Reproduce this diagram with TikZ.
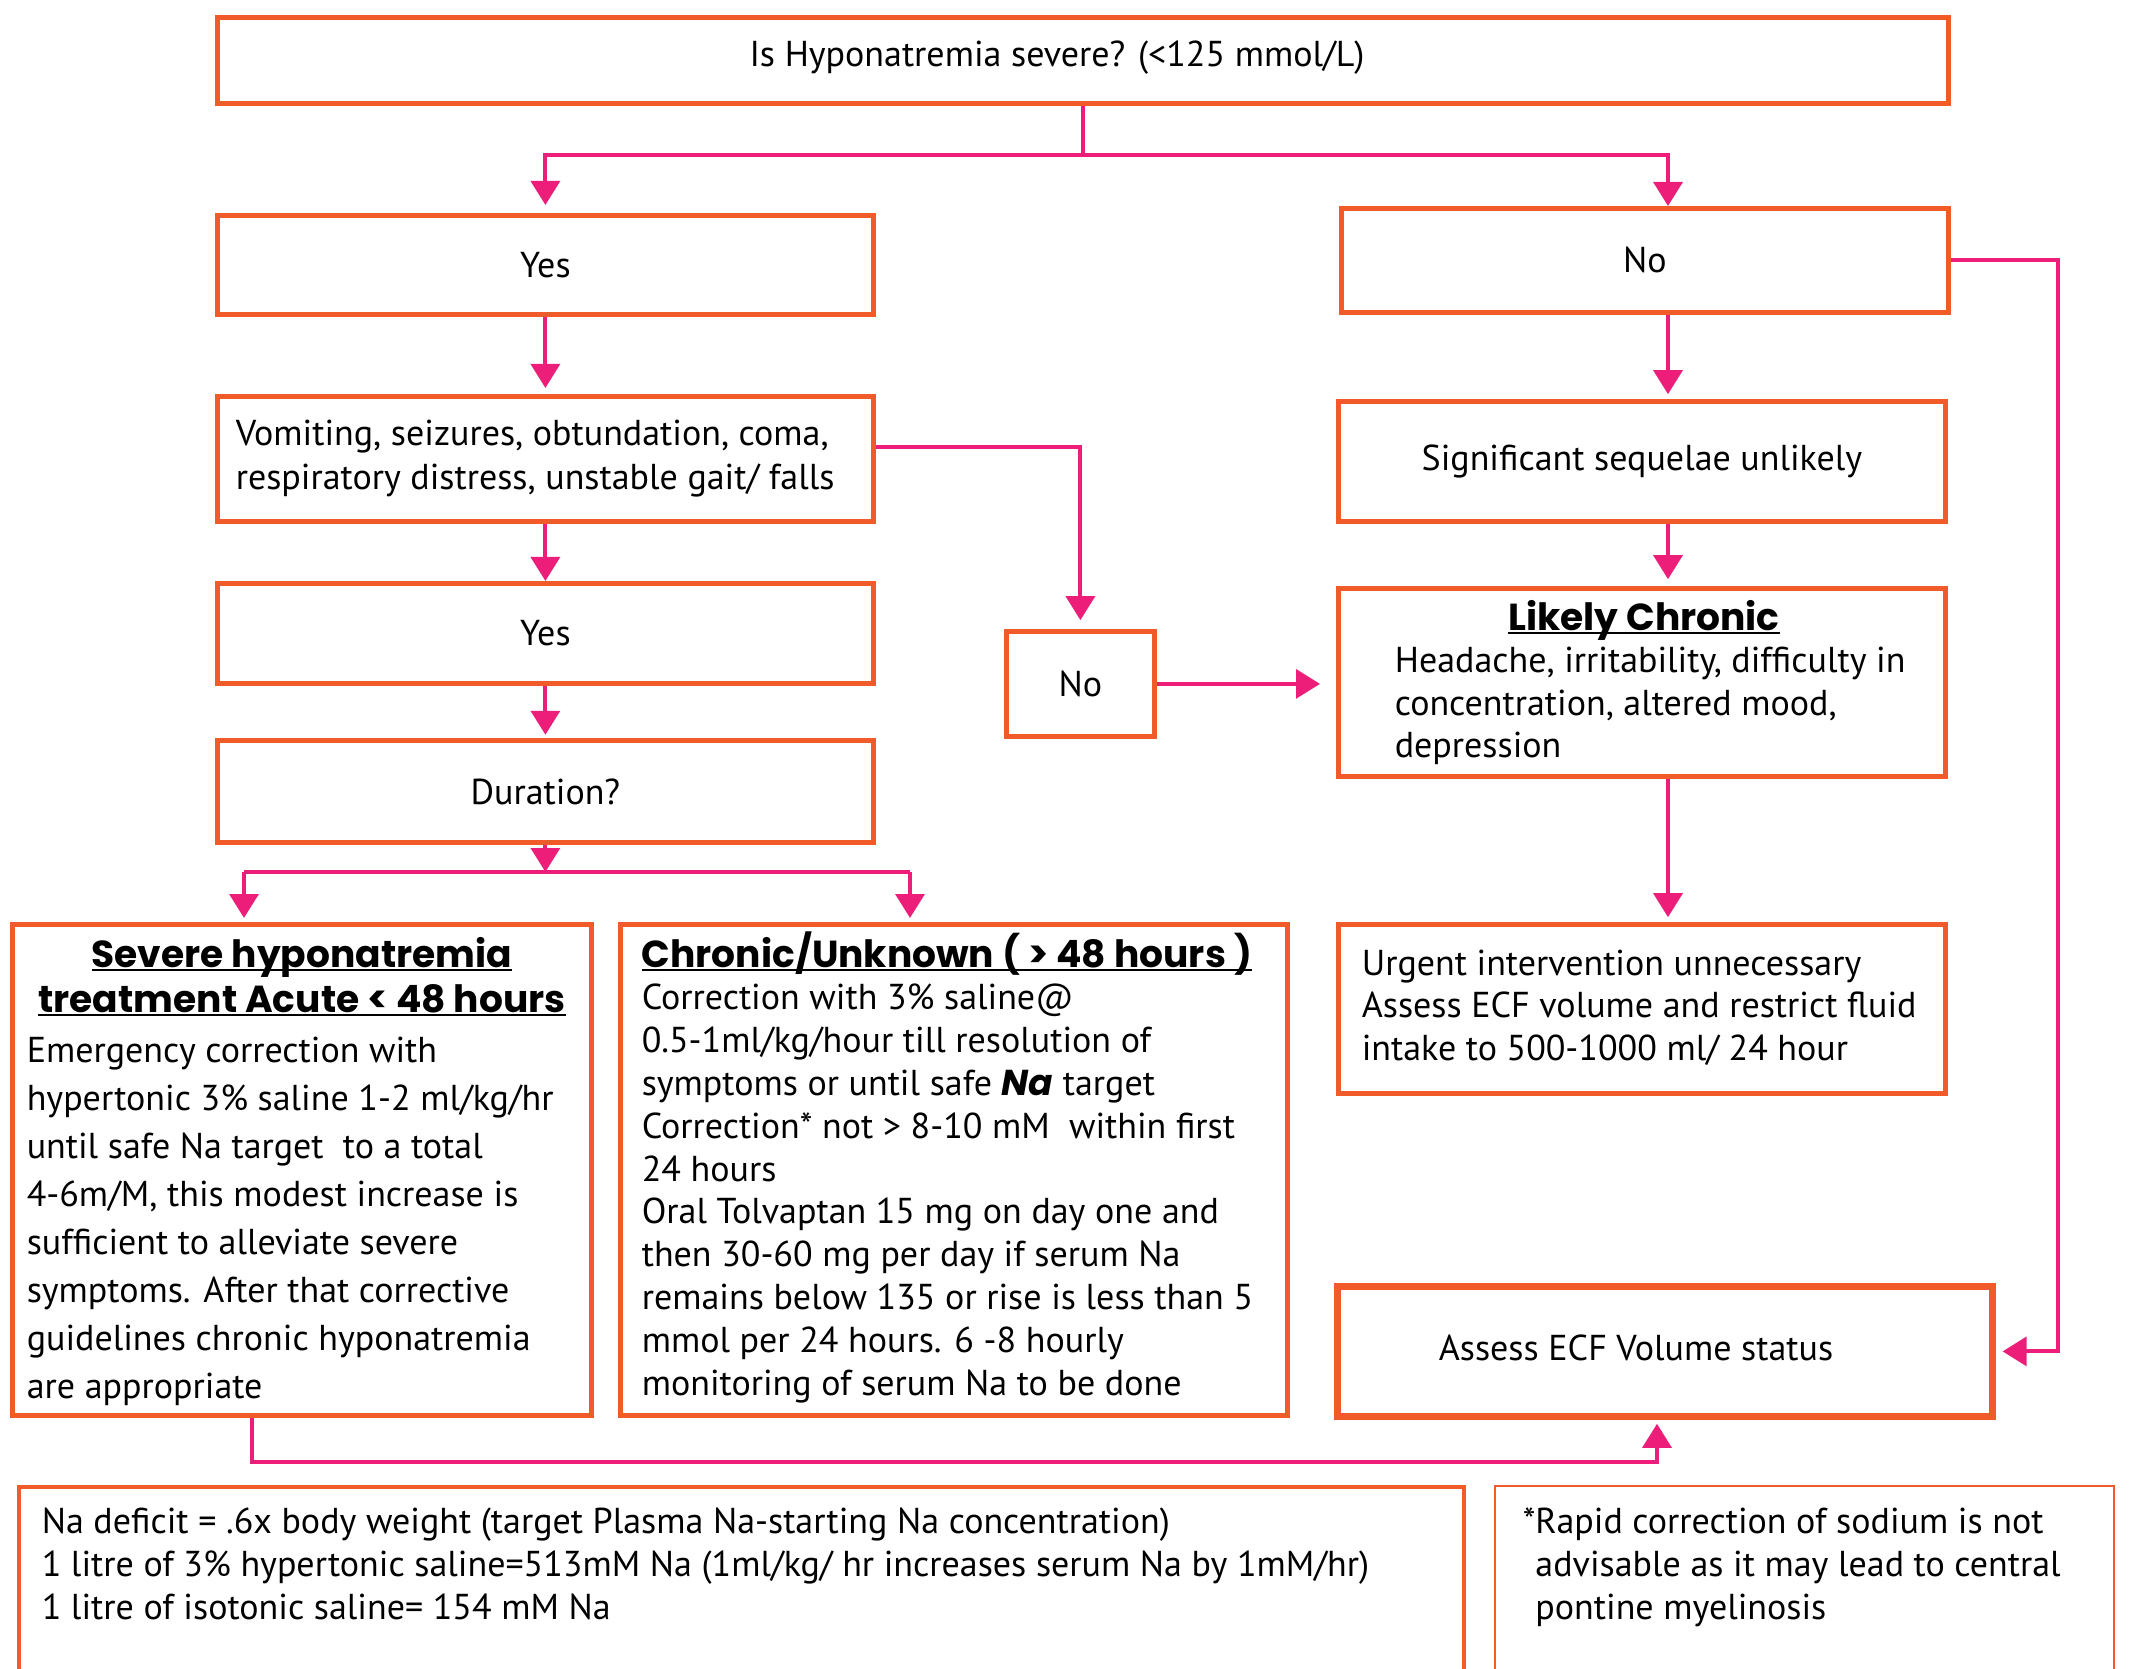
\documentclass[tikz,border=0pt]{standalone}
\usepackage{fontspec}
\setmainfont{PT Sans}
\newfontfamily\headfont{Poppins}
\usetikzlibrary{arrows.meta}
\definecolor{boxor}{RGB}{241,90,41}
\definecolor{arrpk}{RGB}{237,30,121}
\newsavebox\ulbox
\newcommand\myul[1]{\sbox\ulbox{#1}\rlap{\rule[-1.1pt]{\wd\ulbox}{0.55pt}}\usebox\ulbox}
\tikzset{
  bx/.style={draw=boxor, line width=1.2pt, inner sep=0pt, anchor=north west, rectangle,
             font=\fontsize{9pt}{10.7pt}\selectfont},
  ar/.style={draw=arrpk, line width=1pt, -{Triangle[length=6pt,width=7.2pt]}},
  ln/.style={draw=arrpk, line width=1pt},
  tx/.style={inner sep=0pt, anchor=base west, align=left},
  ctx/.style={inner sep=0pt, font=\fontsize{9pt}{10.7pt}\selectfont},
  hd/.style={inner sep=0pt, font=\headfont\bfseries\fontsize{9.4pt}{11.25pt}\selectfont},
}
\begin{document}
\begin{tikzpicture}[x=0.25pt,y=-0.25pt]
\useasboundingbox (0,0) rectangle (2134,1669);
\fill[white] (0,0) rectangle (2134,1669);
% boxes
\node[bx, minimum width=432.75pt, minimum height=21.5pt] (top) at (215,15) {};
\node[bx, minimum width=164pt, minimum height=24.75pt] (yes1) at (215,213) {Yes};
\node[bx, minimum width=151.75pt, minimum height=26pt] (noR) at (1339,206) {No};
\node[bx, minimum width=164pt, minimum height=31.25pt] (vomit) at (215,394) {};
\node[bx, minimum width=164pt, minimum height=25pt] (yes2) at (215,581) {Yes};
\node[bx, minimum width=164pt, minimum height=25.5pt] (dur) at (215,738) {Duration?};
\node[bx, minimum width=144.75pt, minimum height=122.75pt] (severe) at (10,922) {};
\node[bx, minimum width=166.75pt, minimum height=122.75pt] (chronic) at (618,922) {};
\node[bx, minimum width=151.75pt, minimum height=30pt] (sig) at (1336,399) {Significant sequelae unlikely};
\node[bx, minimum width=151.75pt, minimum height=47pt] (likely) at (1336,586) {};
\node[bx, minimum width=37pt, minimum height=26.25pt] (noM) at (1004,629) {No};
\node[bx, minimum width=151.75pt, minimum height=42.25pt] (urgent) at (1336,922) {};
\node[bx, line width=1.7pt, minimum width=163.75pt, minimum height=32.5pt] (assess) at (1334,1283) {};
\begin{scope}
\clip (0,0) rectangle (2134,1669);
\node[bx, line width=1pt, minimum width=361.25pt, minimum height=62.5pt] (nadef) at (17,1485) {};
\node[bx, line width=0.6pt, minimum width=154.75pt, minimum height=62.5pt] (rapid) at (1494,1485) {};
\end{scope}
% texts (multi-line ones anchored at the baseline of their last line)
\node[ctx] (ttop) at (1057,58) {Is Hyponatremia severe? (<125 mmol/L)};
\node[ctx] (tassess) at (1636,1348) {Assess ECF Volume status};
\node[tx, font=\fontsize{9pt}{10.75pt}\selectfont] (tvomit) at (235,489)
  {Vomiting, seizures, obtundation, coma,\\respiratory distress, unstable gait/ falls};
\node[hd, anchor=base, align=center] (hsevere) at (302,1012)
  {\myul{Severe hyponatremia}\\\myul{treatment Acute < 48 hours}};
\node[tx, font=\fontsize{9pt}{12pt}\selectfont] (tsevere) at (26,1398)
  {Emergency correction with\\
   hypertonic 3\% saline 1-2 ml/kg/hr\\
   until safe Na target\ \ to a total\\
   4-6m/M, this modest increase is\\
   sufficient to alleviate severe\\
   symptoms. After that corrective\\
   guidelines chronic hyponatremia\\
   are appropriate};
\node[hd, anchor=base west] (hchronic) at (641,967) {\myul{Chronic/Unknown ( > 48 hours )}};
\node[tx, font=\fontsize{9pt}{10.7pt}\selectfont] (tchronic) at (641,1395)
  {Correction with 3\% saline@\\
   0.5-1ml/kg/hour till resolution of\\
   symptoms or until safe {\headfont\bfseries\itshape Na} target\\
   Correction* not > 8-10 mM\ \ within first\\
   24 hours\\
   Oral Tolvaptan 15 mg on day one and\\
   then 30-60 mg per day if serum Na\\
   remains below 135 or rise is less than 5\\
   mmol per 24 hours. 6 -8 hourly\\
   monitoring of serum Na to be done};
\node[hd, anchor=base] (hlikely) at (1644,630) {\myul{Likely Chronic}};
\node[tx, font=\fontsize{9pt}{10.7pt}\selectfont] (tlikely) at (1394,758)
  {Headache, irritability, difficulty in\\
   concentration, altered mood,\\
   depression};
\node[tx, font=\fontsize{9pt}{10.6pt}\selectfont] (turgent) at (1361,1060)
  {Urgent intervention unnecessary\\
   Assess ECF volume and restrict fluid\\
   intake to 500-1000 ml/ 24 hour};
\node[tx, font=\fontsize{9pt}{10.75pt}\selectfont] (tnadef) at (41,1619)
  {Na deficit = .6x body weight (target Plasma Na-starting Na concentration)\\
   1 litre of 3\% hypertonic saline=513mM Na (1ml/kg/ hr increases serum Na by 1mM/hr)\\
   1 litre of isotonic saline= 154 mM Na};
\node[tx, font=\fontsize{9pt}{10.75pt}\selectfont] (trapid) at (1522,1619)
  {*Rapid correction of sodium is not\\
   \hphantom{*}advisable as it may lead to central\\
   \hphantom{*}pontine myelinosis};
% coordinates
\coordinate (cR) at (1668,0);
\coordinate (yT) at (0,155);
\coordinate (jL) at (244,872);
\coordinate (jR) at (910,872);
\coordinate (xR) at (2058,0);
\coordinate (xS) at (252,0);
\coordinate (xA) at (1657,0);
\coordinate (yB) at (0,1462);
% connectors
\draw[ar, shorten >=2pt] (top.south) -- (top.south |- yT) -| (yes1.north);
\draw[ar] (top.south |- yT) -| (cR |- noR.north);
\draw[ar, shorten >=1.5pt] (yes1.south) -- (vomit.north);
\draw[ar] (vomit.south) -- (yes2.north);
\draw[ar, shorten >=0.8pt] (yes2.south) -- (dur.north);
\draw[ar] (dur.south) -- (dur.south |- jL);
\draw[ln] (jL) -- (jR);
\draw[ar, shorten >=1pt] (jL) -- (jL |- severe.north);
\draw[ar, shorten >=1pt] (jR) -- (jR |- chronic.north);
\draw[ar, shorten >=2.2pt] ([yshift=3pt]vomit.east) -| (noM.north);
\draw[ar, shorten >=4pt] (noM.east) -- (noM.east -| likely.west);
\draw[ar, shorten >=1.2pt] (cR |- noR.south) -- (cR |- sig.north);
\draw[ar, shorten >=1.7pt] (cR |- sig.south) -- (cR |- likely.north);
\draw[ar, shorten >=1.2pt] (cR |- likely.south) -- (cR |- urgent.north);
\draw[ar, shorten >=1.7pt] (noR.east) -- (noR.east -| xR) |- (assess.east);
\draw[ar, shorten >=1pt] (xS |- severe.south) -- (xS |- yB) -| (xA |- assess.south);
\end{tikzpicture}
\end{document}
